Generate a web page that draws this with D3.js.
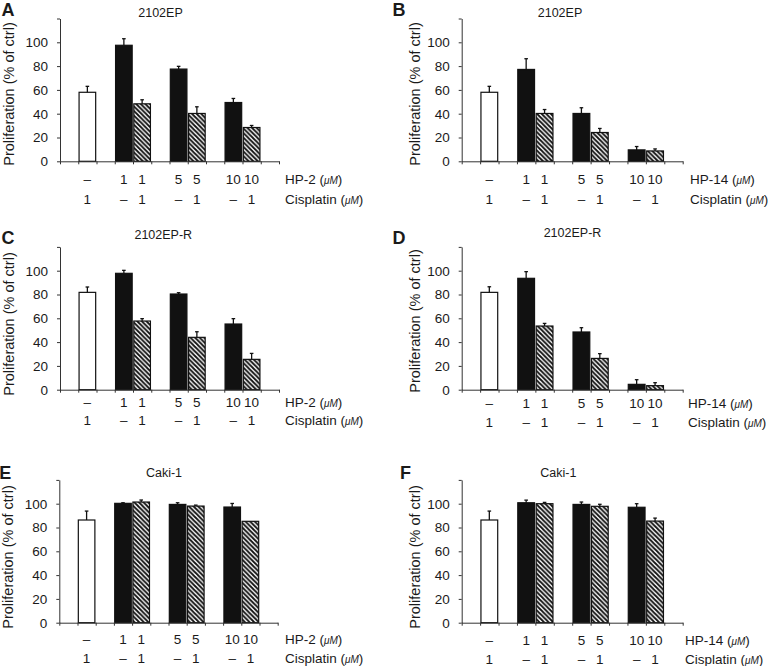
<!DOCTYPE html>
<html>
<head>
<meta charset="utf-8">
<script src="https://cdn.jsdelivr.net/npm/d3@7"></script>
<style>
  html, body { margin: 0; padding: 0; background: #fff; }
  svg { display: block; }
  text { font-family: "Liberation Sans", Arial, Helvetica, sans-serif; fill: #1a1a1a; }
</style>
</head>
<body>
<svg id="chart" width="774" height="666"></svg>
<script>
// ---------------- data ----------------
const categories = ["s0", "Cis", "s2", "HP1", "HP1+Cis", "s5", "HP5", "HP5+Cis", "s8", "HP10", "HP10+Cis", "s11"];
const barCategories = ["Cis", "HP1", "HP1+Cis", "HP5", "HP5+Cis", "HP10", "HP10+Cis"];
const barKinds = ["open", "solid", "hatched", "solid", "hatched", "solid", "hatched"];
const doseLabels = ["–", "1", "1", "5", "5", "10", "10"];
const cisplatinLabels = ["1", "–", "1", "–", "1", "–", "1"];

const panelLetters = ["A", "B", "C", "D", "E", "F"];
const panelTitles = ["2102EP", "2102EP", "2102EP-R", "2102EP-R", "Caki-1", "Caki-1"];
const drugNames = ["HP-2", "HP-14", "HP-2", "HP-14", "HP-2", "HP-14"];

const valuesA = [58, 97.5, 48.3, 77.5, 40.2, 49.4, 28.4];
const errorsA = [5, 5.5, 3.4, 2.3, 5.6, 3.4, 1.7];
const valuesB = [58, 77.2, 40.2, 40.2, 24.2, 9.6, 8.7];
const errorsB = [5, 9, 3.3, 4.8, 3.4, 2.8, 1.7];
const valuesC = [81.8, 97.8, 57.7, 80.4, 44, 55.2, 25.5];
const errorsC = [4.5, 2.5, 2, 1.1, 4.7, 4.5, 5];
const valuesD = [81.8, 93.6, 53.5, 48.5, 26.3, 4.5, 3.4];
const errorsD = [4.7, 5.6, 2.2, 3.6, 4, 3.9, 2.5];
const valuesE = [86.3, 100.3, 101.4, 99.4, 98, 97.2, 85.2];
const errorsE = [7.5, 0.5, 1.7, 1.4, 0.8, 3, 0];
const valuesF = [86.3, 100.8, 100, 99.4, 97.8, 97, 85.4];
const errorsF = [7.5, 2.2, 1.1, 2, 1.7, 3, 2.5];

const yTicks = [0, 20, 40, 60, 80, 100, 120];
const yTickLabels = ["0", "20", "40", "60", "80", "100", ""];
const yDomain = [0, 120];
const yLabel = "Proliferation (% of ctrl)";
const unitLabel = "μM";
const cisplatinName = "Cisplatin";

const panelValues = [valuesA, valuesB, valuesC, valuesD, valuesE, valuesF];
const panelErrors = [errorsA, errorsB, errorsC, errorsD, errorsE, errorsF];

// ---------------- layout ----------------
const layout = [
  { x0: 60,    x1: 279,   yTop: 18.5, yZero: 161.3, lx: 1.5,  ly: 15.5,  tx: 160.5, ty: 17.3,  yx: 9,   yy: 94,    r1: 183.5, r2: 203.5, rx: 285 },
  { x0: 461.7, x1: 682.7, yTop: 18.5, yZero: 161.3, lx: 392.5,ly: 15.5,  tx: 560,   ty: 17.3,  yx: 415, yy: 94,    r1: 183.5, r2: 203.5, rx: 690 },
  { x0: 60,    x1: 279,   yTop: 246.9,yZero: 389.7, lx: 1.5,  ly: 244,   tx: 163.3, ty: 239,   yx: 9,   yy: 324,   r1: 406.7, r2: 425.3, rx: 285 },
  { x0: 461.7, x1: 682.7, yTop: 246.9,yZero: 389.7, lx: 392.5,ly: 243.5, tx: 572.5, ty: 237.3, yx: 415, yy: 321,   r1: 408.3, r2: 426.7, rx: 688 },
  { x0: 59.3,  x1: 277.7, yTop: 479.9,yZero: 622.7, lx: -0.8, ly: 479.3, tx: 164,   ty: 476.7, yx: 8,   yy: 557,   r1: 644,   r2: 662.7, rx: 285 },
  { x0: 461.7, x1: 682.7, yTop: 479.9,yZero: 622.7, lx: 400,  ly: 479.3, tx: 558.3, ty: 477.3, yx: 415, yy: 557,   r1: 645,   r2: 664,   rx: 685 }
];

const svg = d3.select("#chart");

// hatch pattern ("\" stripes)
const defs = svg.append("defs");
const pat = defs.append("pattern")
  .attr("id", "hatch")
  .attr("patternUnits", "userSpaceOnUse")
  .attr("width", 4.6).attr("height", 4.6);
pat.append("rect").attr("width", 4.6).attr("height", 4.6).attr("fill", "#fff");
pat.append("path")
  .attr("d", "M-1,-1L5.6,5.6M-1,3.6L1,5.6M3.6,-1L5.6,1")
  .attr("stroke", "#111").attr("stroke-width", 1.8);

const fillFor = k => k === "open" ? "#fff" : (k === "solid" ? "#111" : "url(#hatch)");

layout.forEach((L, p) => {
  const g = svg.append("g");
  const values = panelValues[p];
  const errors = panelErrors[p];

  const x = d3.scaleBand().domain(categories).range([L.x0, L.x1])
    .paddingInner(0.09).paddingOuter(0.045);
  const xEdges = d3.scaleLinear().domain([0, categories.length]).range([L.x0, L.x1]);
  const y = d3.scaleLinear().domain(yDomain).range([L.yZero, L.yTop]);

  // bars
  g.selectAll("rect.bar").data(barCategories).enter().append("rect")
    .attr("class", "bar")
    .attr("x", d => x(d))
    .attr("width", x.bandwidth())
    .attr("y", (d, i) => y(values[i]))
    .attr("height", (d, i) => y(0) - y(values[i]))
    .attr("fill", (d, i) => fillFor(barKinds[i]))
    .attr("stroke", "#111")
    .attr("stroke-width", 1.2);

  // error bars (upper only)
  barCategories.forEach((c, i) => {
    if (!(errors[i] > 0)) return;
    const cx = x(c) + x.bandwidth() / 2;
    g.append("line")
      .attr("x1", cx).attr("x2", cx)
      .attr("y1", y(values[i])).attr("y2", y(values[i] + errors[i]))
      .attr("stroke", "#111").attr("stroke-width", 1.3);
    g.append("line")
      .attr("x1", cx - 1.8).attr("x2", cx + 1.8)
      .attr("y1", y(values[i] + errors[i])).attr("y2", y(values[i] + errors[i]))
      .attr("stroke", "#111").attr("stroke-width", 1.3);
  });

  // y axis
  const yAxis = g.append("g")
    .attr("transform", `translate(${L.x0},0)`)
    .call(d3.axisLeft(y).tickValues(yTicks).tickSize(3).tickSizeOuter(0).tickPadding(9)
      .tickFormat((d, i) => yTickLabels[i]));
  yAxis.selectAll("path, line").attr("stroke", "#333").attr("stroke-width", 1);
  yAxis.selectAll("text").attr("font-size", 13.5).attr("fill", "#1a1a1a")
    .attr("font-family", "'Liberation Sans', Arial, sans-serif");

  // x axis with ticks at slot edges
  const xAxis = g.append("g")
    .attr("transform", `translate(0,${L.yZero})`)
    .call(d3.axisBottom(xEdges).tickValues(d3.range(categories.length + 1)).tickSize(3).tickSizeOuter(0)
      .tickFormat(() => ""));
  xAxis.selectAll("path, line").attr("stroke", "#333").attr("stroke-width", 1);

  // category label rows
  g.selectAll("text.dose").data(barCategories).enter().append("text")
    .attr("class", "dose")
    .attr("x", d => x(d) + x.bandwidth() / 2)
    .attr("y", L.r1)
    .attr("text-anchor", "middle")
    .attr("font-size", 13.5)
    .text((d, i) => doseLabels[i]);
  g.selectAll("text.cis").data(barCategories).enter().append("text")
    .attr("class", "cis")
    .attr("x", d => x(d) + x.bandwidth() / 2)
    .attr("y", L.r2)
    .attr("text-anchor", "middle")
    .attr("font-size", 13.5)
    .text((d, i) => cisplatinLabels[i]);

  // row names
  const rowName = (name, yy) => {
    const t = g.append("text").attr("x", L.rx).attr("y", yy).attr("font-size", 13.5);
    t.append("tspan").text(name + " (");
    t.append("tspan").attr("font-style", "italic").attr("font-size", 10).text(unitLabel);
    t.append("tspan").text(")");
  };
  rowName(drugNames[p], L.r1);
  rowName(cisplatinName, L.r2);

  // title
  g.append("text").attr("x", L.tx).attr("y", L.ty).attr("text-anchor", "middle")
    .attr("font-size", 12.5).text(panelTitles[p]);

  // panel letter
  g.append("text").attr("x", L.lx).attr("y", L.ly)
    .attr("font-size", 18).attr("font-weight", "bold").attr("fill", "#000")
    .text(panelLetters[p]);

  // y label
  g.append("text")
    .attr("transform", `translate(${L.yx + 4.5},${L.yy}) rotate(-90)`)
    .attr("text-anchor", "middle")
    .attr("font-size", 14.5)
    .text(yLabel);
});
</script>
</body>
</html>
